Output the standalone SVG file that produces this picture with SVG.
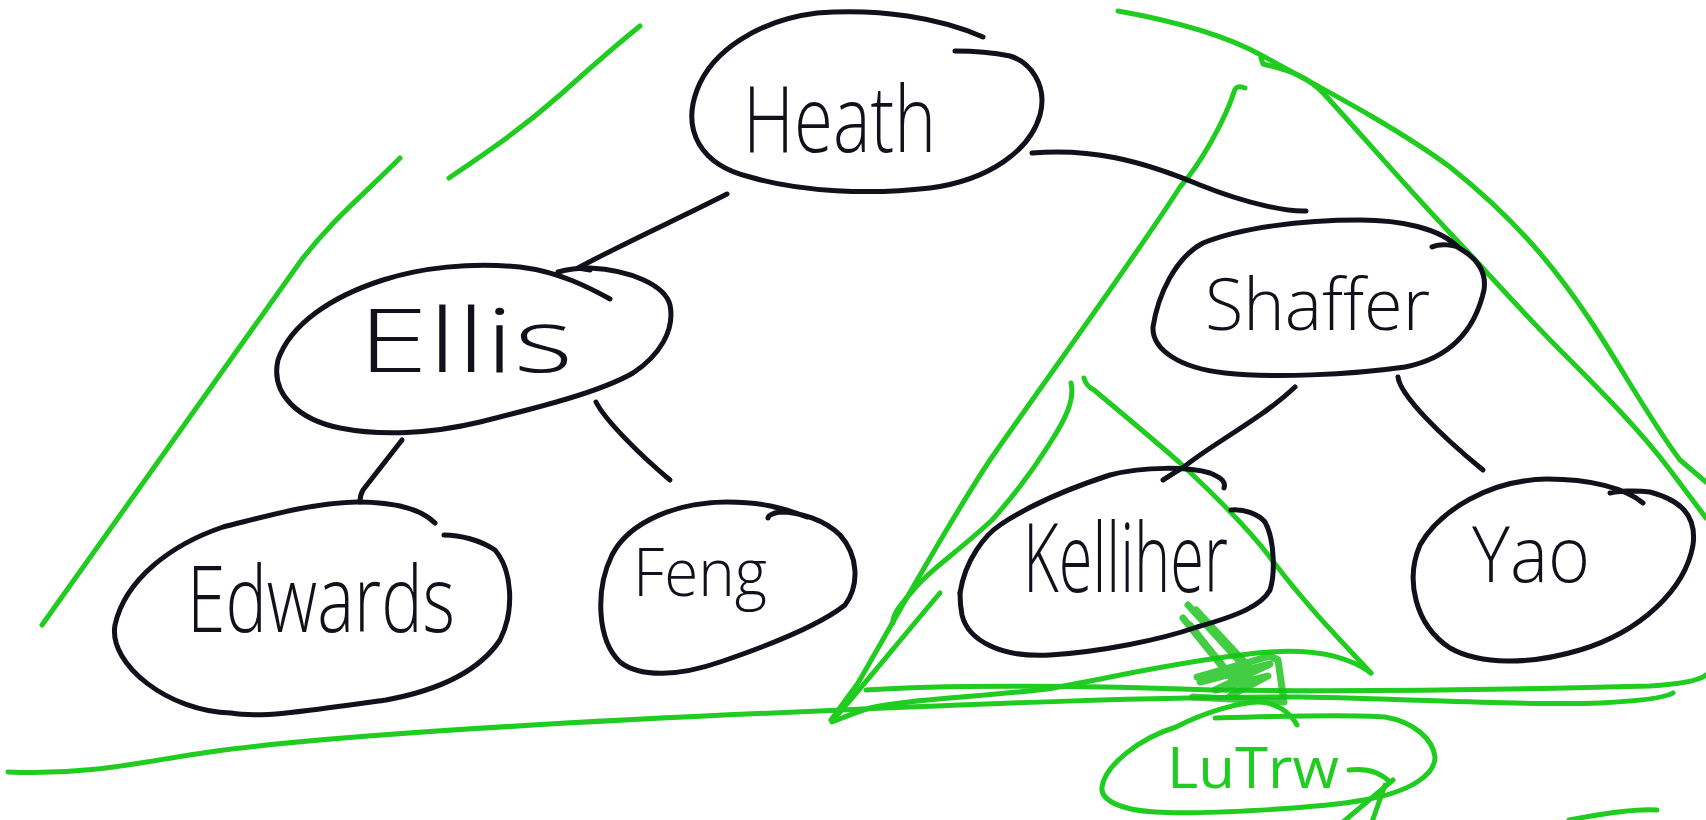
<svg xmlns="http://www.w3.org/2000/svg" width="1706" height="820" viewBox="0 0 1706 820">
<style>
.ol{fill:none;stroke:#11111c;stroke-width:5;stroke-linecap:round;stroke-linejoin:round}
.gr{fill:none;stroke:#1fcc1f;stroke-width:5;stroke-linecap:round;stroke-linejoin:round}
.gs{fill:none;stroke:#14c014;stroke-width:7;stroke-linecap:round;stroke-linejoin:round;opacity:0.8}
.lbl{font-family:"Open Sans","Liberation Sans",sans-serif;font-weight:300;fill:#11111c}
.glbl{font-family:"Open Sans","Liberation Sans",sans-serif;font-weight:400;fill:#1fcc1f}
</style>
<rect width="1706" height="820" fill="#ffffff"/>

<g id="annotations">
  <path class="gr" d="M400,158 C360,198 330,222 300,262 L42,625"/>
  <path class="gr" d="M449,178 C490,150 520,130 560,95 C590,68 615,46 640,26"/>
  <path class="gr" d="M8,772 C90,776 150,760 210,752 C330,735 600,720 842,710 C1000,703 1150,697 1300,697 C1420,699 1520,706 1600,703 C1640,701 1665,698 1673,693"/>
  <path class="gr" d="M866,690 C950,684 1100,686 1213,690 C1350,692 1500,690 1650,686 C1685,684 1700,680 1706,675"/>
  <path class="gr" d="M1371,673 C1340,650 1290,648 1241,655 C1170,663 1100,680 1047,689 C980,697 900,700 870,708 C850,714 838,720 832,722"/>
  <path class="gr" d="M1245,88 Q1236,84 1234,92 C1225,120 1200,165 1180,187 C1140,250 1060,360 990,460 C950,520 900,610 858,683 L831,720"/>
  <path class="gr" d="M1071,383 C1075,400 1065,420 1050,443 C1030,475 1010,500 992,520 C960,550 930,570 916,587 C900,605 892,615 893,623"/>
  <path class="gr" d="M940,593 C900,640 860,690 833,720"/>
  <path class="gr" d="M1084,378 Q1086,386 1094,390 C1130,420 1160,445 1180,463 C1220,500 1250,530 1272,560 C1310,610 1345,645 1371,673"/>
  <path class="gr" d="M1118,11 C1180,22 1230,38 1261,55 C1340,98 1400,130 1450,167 C1510,215 1550,260 1590,320 C1620,365 1650,420 1680,460 L1706,482"/>
  <path class="gr" d="M1261,58 L1263,64 C1290,70 1310,78 1325,95 C1360,133 1400,180 1450,233 C1490,275 1520,310 1560,350 C1600,390 1640,430 1670,470 L1706,518"/>
  <path class="gs" d="M1188,605 L1240,662 M1183,618 L1233,680 M1196,610 L1250,668 M1190,625 L1226,670 M1197,677 L1270,656 L1278,660 L1284,702 L1193,697 M1200,682 L1270,664 L1215,690 L1268,676 L1230,696"/>
  <path class="gr" d="M1215,718 C1280,716 1350,714 1385,717 C1415,722 1433,740 1435,757 C1435,775 1410,792 1364,800 C1320,808 1200,815 1155,812 C1120,810 1100,800 1102,787 C1105,765 1140,738 1176,727 C1205,712 1240,702 1259,702 C1275,702 1290,712 1297,725"/>
  <path class="gr" d="M1349,770 C1365,768 1380,772 1390,782 M1393,780 L1343,822 M1385,785 L1372,822"/>
  <path class="gr" d="M1569,820 C1600,814 1635,808 1657,810"/>
  <text class="glbl" x="1167" y="788" font-size="56" textLength="172" lengthAdjust="spacingAndGlyphs">LuTrw</text>
</g>

<g id="connectors">
  <path class="ol" d="M1032,153 C1090,148 1140,160 1200,185 C1250,205 1290,212 1306,211"/>
  <path class="ol" d="M727,194 C680,218 620,245 578,268 L590,270"/>
  <path class="ol" d="M402,440 L363,490 C360,495 360,500 360,502"/>
  <path class="ol" d="M596,402 C605,420 640,455 670,480"/>
  <path class="ol" d="M1295,387 C1260,420 1210,445 1184,467 C1175,472 1168,477 1163,480"/>
  <path class="ol" d="M1398,377 C1400,395 1440,435 1483,470"/>
</g>

<g id="heath">
  <path class="ol" d="M983,37 C940,18 880,8 817,13 C760,20 712,50 697,90 C682,130 700,165 750,177 C800,192 870,195 930,188 C990,180 1030,150 1040,115 C1048,85 1030,62 1010,56 C990,52 970,51 955,51"/>
  <text class="lbl" x="743" y="152" font-size="92" textLength="193" lengthAdjust="spacingAndGlyphs">Heath</text>
</g>

<g id="ellis">
  <path class="ol" d="M610,299 C590,288 560,272 520,267 C470,262 420,268 383,280 C330,297 290,325 278,360 C270,395 300,420 340,428 C380,436 430,434 480,422 C540,407 600,392 633,373 C660,355 675,330 670,305 C665,285 630,270 590,268 C575,268 565,270 558,272"/>
  <text class="lbl" x="358" y="372" font-size="88" textLength="215" lengthAdjust="spacingAndGlyphs">Ellis</text>
</g>

<g id="edwards">
  <path class="ol" d="M435,523 C420,508 390,502 357,502 C310,503 260,518 223,527 C170,545 125,580 115,625 C108,665 170,712 231,713 C260,718 300,712 386,700 C440,690 480,670 500,640 C515,610 512,570 495,550 C480,540 460,535 444,535"/>
  <text class="lbl" x="187" y="632" font-size="92" textLength="268" lengthAdjust="spacingAndGlyphs">Edwards</text>
</g>

<g id="feng">
  <path class="ol" d="M807,517 C780,507 760,502 727,502 C680,502 630,520 612,555 C595,590 597,640 620,662 C640,678 680,676 720,662 C770,645 820,625 845,605 C860,585 858,555 840,535 C825,520 800,512 780,512 C772,513 768,516 768,518"/>
  <text class="lbl" x="633" y="596" font-size="66" textLength="134" lengthAdjust="spacingAndGlyphs">Feng</text>
</g>

<g id="shaffer">
  <path class="ol" d="M1432,247 C1440,243 1455,245 1459,248 C1440,228 1400,220 1360,220 C1300,220 1240,228 1203,243 C1175,258 1158,295 1153,327 C1152,350 1180,368 1225,373 C1270,378 1350,375 1405,367 C1450,358 1475,330 1484,290 C1487,270 1475,257 1459,248"/>
  <text class="lbl" x="1205" y="330" font-size="72" textLength="225" lengthAdjust="spacingAndGlyphs">Shaffer</text>
</g>

<g id="kelliher">
  <path class="ol" d="M960,593 C965,560 985,535 1000,525 C1030,505 1070,488 1110,475 C1145,466 1190,467 1210,473 C1222,478 1226,482 1224,488"/>
  <path class="ol" d="M1231,510 C1245,509 1258,514 1265,522 C1275,540 1275,575 1270,590 C1262,605 1240,615 1197,627 C1160,640 1100,652 1050,655 C1000,658 968,640 962,615 C960,605 960,598 960,593"/>
  <text class="lbl" x="1023" y="592" font-size="96" textLength="205" lengthAdjust="spacingAndGlyphs">Kelliher</text>
</g>

<g id="yao">
  <path class="ol" d="M1643,503 C1625,488 1590,479 1547,479 C1490,480 1440,510 1420,545 C1405,580 1415,625 1450,648 C1480,665 1530,665 1580,650 C1640,632 1685,590 1693,545 C1697,515 1680,500 1650,492 C1635,490 1618,491 1610,493"/>
  <text class="lbl" x="1472" y="582" font-size="78" textLength="118" lengthAdjust="spacingAndGlyphs">Yao</text>
</g>
</svg>
